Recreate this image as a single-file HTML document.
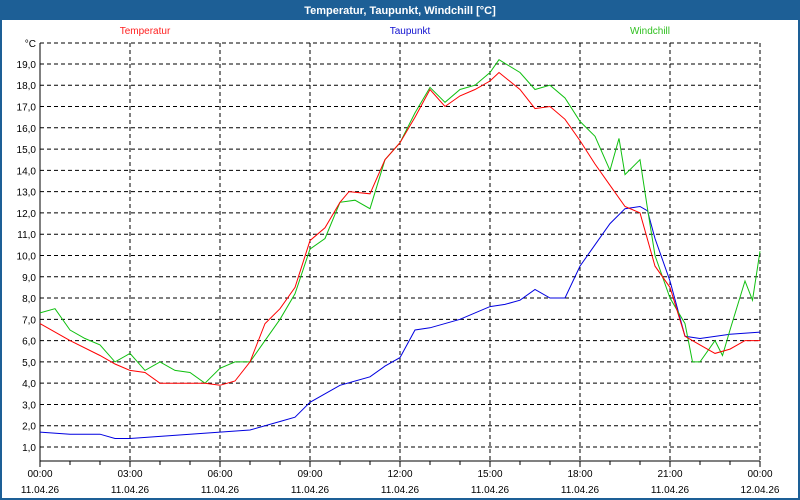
<!DOCTYPE html>
<html><head><meta charset="utf-8"><style>
body{margin:0;background:#fff;}
svg{display:block;font-family:"Liberation Sans",sans-serif;}
</style></head><body>
<svg id="s" width="800" height="500" viewBox="0 0 800 500">
<rect x="0" y="0" width="800" height="500" fill="#1d5f96"/>
<rect x="2" y="20" width="796" height="478" fill="#fff"/>
<text x="400" y="14" fill="#fff" font-size="11" font-weight="bold" text-anchor="middle">Temperatur, Taupunkt, Windchill [°C]</text>
<text x="145" y="34" fill="#ff2020" font-size="10" text-anchor="middle">Temperatur</text>
<text x="410" y="34" fill="#1010d0" font-size="10" text-anchor="middle">Taupunkt</text>
<text x="650" y="34" fill="#30c020" font-size="10" text-anchor="middle">Windchill</text>
<g id="g"></g>
</svg>
<script>
const g=document.getElementById('g');let h='';
const X=t=>40+30*t, Y=v=>447-(v-1)*21.28;
// horizontal grid
for(let v=1;v<=20;v++){const y=v==20?43:Y(v);
h+=`<line x1="40" x2="760" y1="${y}" y2="${y}" stroke="#000" stroke-dasharray="4,3"/>`;
h+=`<text x="36" y="${y+4}" font-size="10" text-anchor="end">${v==20?'°C':v+',0'}</text>`;}
for(let i=1;i<=8;i++){const x=X(i*3);h+=`<line x1="${x}" x2="${x}" y1="43" y2="461" stroke="#000" stroke-dasharray="4,3"/>`;}
for(let i=0;i<=24;i++){const x=X(i);h+=`<line x1="${x}" x2="${x}" y1="461" y2="${i%3?465:467}" stroke="#000"/>`;}
for(let i=0;i<=8;i++){const x=X(i*3);const hh=String((i*3)%24).padStart(2,'0')+':00';
h+=`<text x="${x}" y="477" font-size="10" text-anchor="middle">${hh}</text><text x="${x}" y="493" font-size="10" text-anchor="middle">${i==8?'12.04.26':'11.04.26'}</text>`;}
h+=`<line x1="40" x2="40" y1="43" y2="461" stroke="#000"/><line x1="40" x2="760" y1="461" y2="461" stroke="#000"/><line x1="760" x2="760" y1="43" y2="461" stroke="#000" stroke-dasharray="4,3"/>`;
const T=[[0,6.8],[1,6.0],[2,5.3],[2.5,4.9],[3,4.6],[3.5,4.5],[4,4.0],[5.5,4.0],[6,3.9],[6.5,4.1],[7,5.0],[7.5,6.8],[8,7.5],[8.5,8.5],[9,10.7],[9.5,11.3],[10,12.5],[10.3,13.0],[11,12.9],[11.5,14.5],[12,15.3],[12.5,16.5],[13,17.8],[13.5,17.0],[14,17.5],[14.5,17.8],[15,18.2],[15.3,18.6],[16,17.8],[16.5,16.9],[17,17.0],[17.5,16.4],[18,15.4],[18.5,14.3],[19,13.3],[19.5,12.3],[20,12.0],[20.5,9.5],[21,8.5],[21.5,6.2],[22,5.8],[22.5,5.4],[23,5.6],[23.5,6.0],[24,6.0]];
const W=[[0,7.3],[0.5,7.5],[1,6.5],[1.5,6.1],[2,5.8],[2.5,5.0],[3,5.4],[3.5,4.6],[4,5.0],[4.5,4.6],[5,4.5],[5.5,4.0],[6,4.7],[6.5,5.0],[7,5.0],[7.5,6.0],[8,7.0],[8.5,8.2],[9,10.3],[9.5,10.8],[10,12.5],[10.5,12.6],[11,12.2],[11.5,14.5],[12,15.3],[12.5,16.7],[13,17.9],[13.5,17.2],[14,17.8],[14.5,18.0],[15,18.6],[15.3,19.2],[16,18.6],[16.5,17.8],[17,18.0],[17.5,17.4],[18,16.3],[18.5,15.6],[19,14.0],[19.3,15.5],[19.5,13.8],[20,14.5],[20.25,12.2],[20.5,10.0],[21,8.0],[21.5,6.8],[21.75,5.0],[22,5.0],[22.5,6.0],[22.75,5.3],[23,6.5],[23.5,8.8],[23.75,7.9],[24,10.2]];
const D=[[0,1.7],[1,1.6],[2,1.6],[2.5,1.4],[3,1.4],[4,1.5],[5,1.6],[6,1.7],[7,1.8],[8,2.2],[8.5,2.4],[9,3.1],[9.5,3.5],[10,3.9],[11,4.3],[11.5,4.8],[12,5.2],[12.5,6.5],[13,6.6],[14,7.0],[15,7.6],[15.5,7.7],[16,7.9],[16.5,8.4],[17,8.0],[17.5,8.0],[18,9.5],[18.5,10.5],[19,11.5],[19.5,12.2],[20,12.3],[20.25,12.1],[20.5,10.8],[21,8.8],[21.5,6.2],[22,6.1],[23,6.3],[24,6.4]];
const pl=(d,c)=>`<polyline fill="none" stroke="${c}" stroke-width="1" points="${d.map(p=>X(p[0]).toFixed(1)+','+Y(p[1]).toFixed(1)).join(' ')}"/>`;
h+=pl(D,'#0000e0')+pl(W,'#10c010')+pl(T,'#ff0000');
g.innerHTML=h;
</script>
</body></html>
